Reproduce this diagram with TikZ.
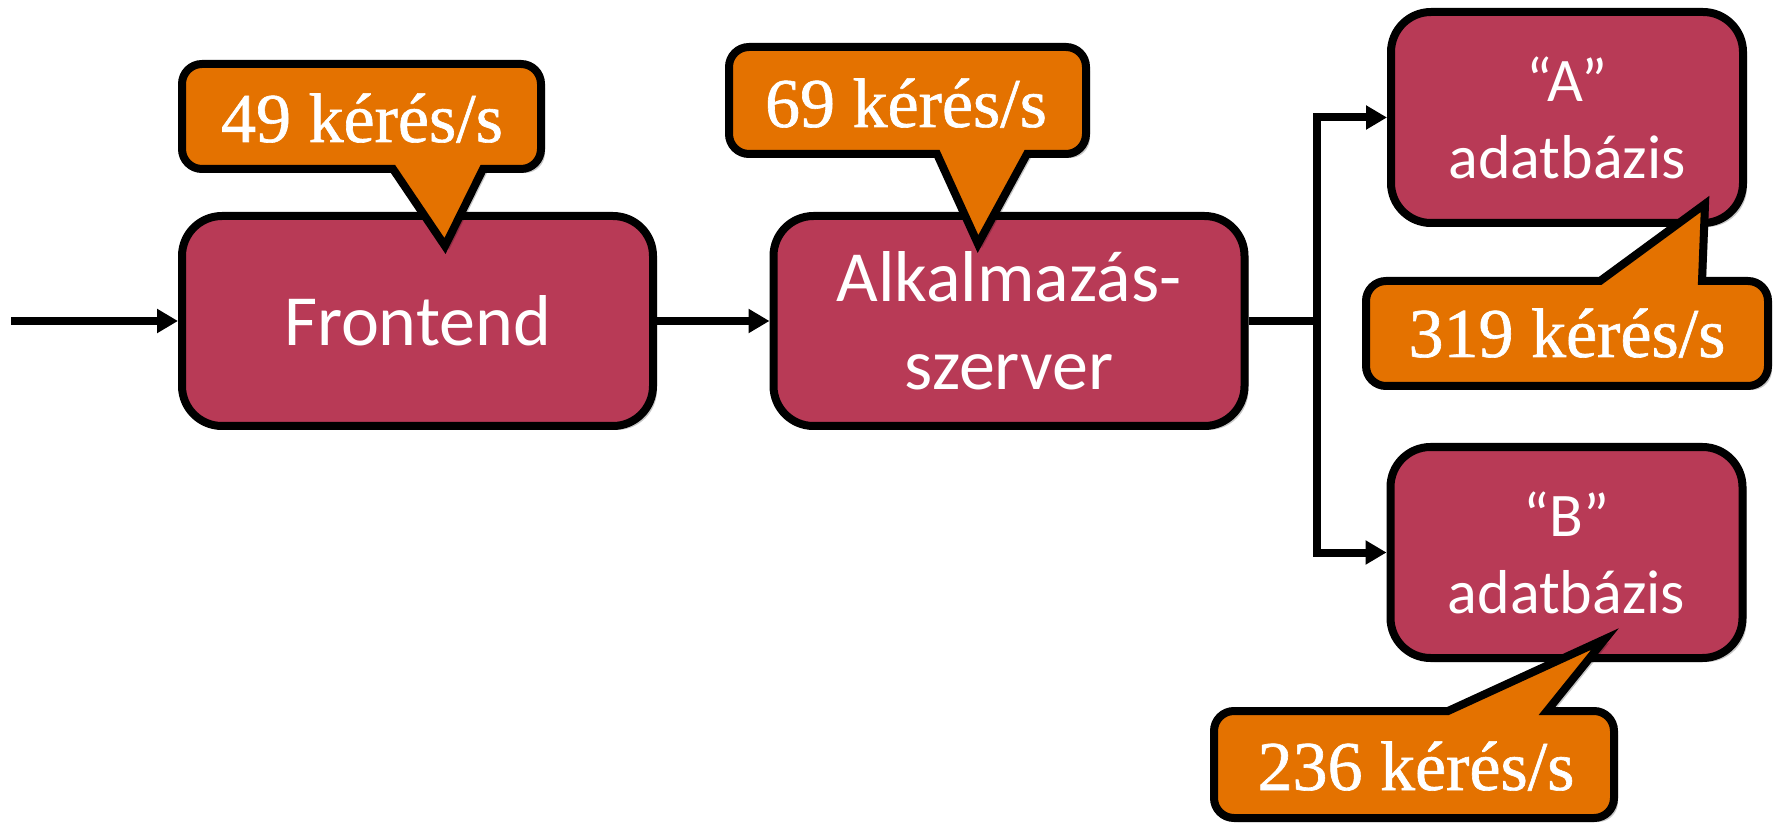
\documentclass[tikz,border=0pt]{standalone}
\usepackage{fontspec}
\setmainfont{Carlito}
\newfontfamily\calfont[FakeBold=0.9]{Liberation Serif}
\usetikzlibrary{arrows.meta,shadows}
\definecolor{boxred}{HTML}{B83A56}
\definecolor{callorange}{HTML}{E47200}
\tikzset{
  x=0.5pt, y=-0.5pt,
  shade/.style={drop shadow={shadow xshift=2pt, shadow yshift=-2pt, opacity=0.22, fill=black}},
  procbox/.style={draw=black, line width=4pt, fill=boxred, rounded corners=20pt, text=white,
    align=center, font=\fontsize{36}{44}\selectfont, inner sep=0pt, shade},
  dbbox/.style={procbox, font=\fontsize{31}{38.5}\selectfont,
    minimum width=176pt, minimum height=105.5pt},
  bigbox/.style={procbox, minimum width=235.5pt, minimum height=105pt},
  callshape/.style={draw=black, line width=4pt, fill=callorange, line join=miter, shade},
  calltext/.style={text=white, font=\calfont\fontsize{35}{40}\selectfont, anchor=base, inner sep=0pt},
  conn/.style={draw=black, line width=4pt, -{Triangle[length=10.5pt, width=11.5pt]}},
  plainconn/.style={draw=black, line width=4pt}
}
\begin{document}
\begin{tikzpicture}
\useasboundingbox (0,0) rectangle (1777,823);

% boxes
\node[bigbox] (fe) at (417.5,321) {Frontend};
\node[bigbox] (app) at (1009,321) {Alkalmazás-\\szerver};
\node[dbbox] (dbA) at (1567,117.5) {“A”\\adatbázis};
\node[dbbox] (dbB) at (1566.5,552.5) {“B”\\adatbázis};

% connectors
\coordinate (in) at (11,321);
\coordinate (j) at (1317,321);
\draw[conn] (in) -- (fe.west);
\draw[conn] (fe.east) -- (app.west);
\draw[plainconn] (app.east) -- (j);
\draw[conn] (j) |- (dbA.west);
\draw[conn] (j) |- (dbB.west);

% callouts
\draw[callshape] (445,246) -- (393,169) [rounded corners=10pt] -- (182,169) -- (182,64) -- (541,64) -- (541,169) [sharp corners] -- (483,169) -- cycle;
\node[calltext] (c1) at (362,142) {49 kérés/s};

\draw[callshape] (978,244) -- (937,154) [rounded corners=10pt] -- (729,154) -- (729,47) -- (1086,47) -- (1086,154) [sharp corners] -- (1027,154) -- cycle;
\node[calltext] (c2) at (906,127) {69 kérés/s};

\draw[callshape] (1705,204) -- (1702,281) [rounded corners=10pt] -- (1768,281) -- (1768,386) -- (1366,386) -- (1366,281) [sharp corners] -- (1600,281) -- cycle;
\node[calltext] (c3) at (1567,357) {319 kérés/s};

\draw[callshape] (1605,639) -- (1547,711) [rounded corners=10pt] -- (1614,711) -- (1614,818) -- (1214,818) -- (1214,711) [sharp corners] -- (1448,711) -- cycle;
\node[calltext] (c4) at (1416,790) {236 kérés/s};
\end{tikzpicture}
\end{document}
